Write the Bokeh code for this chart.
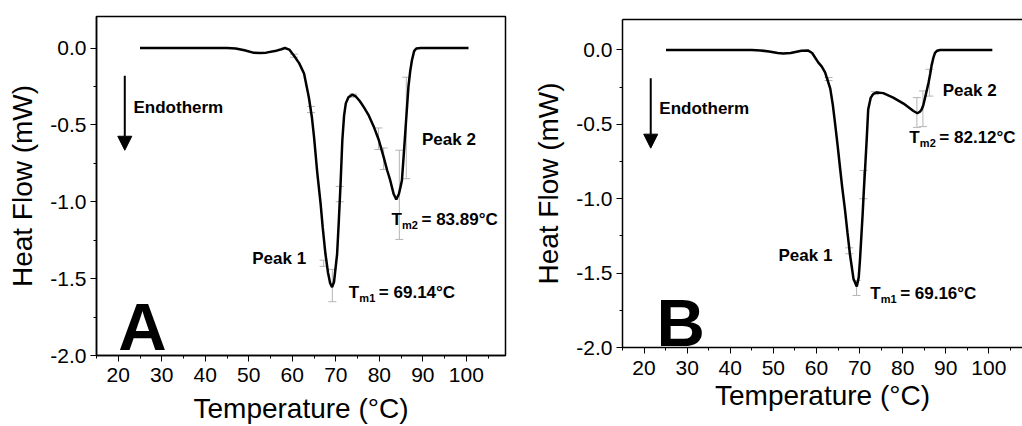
from bokeh.plotting import figure
from bokeh.layouts import row, column
from bokeh.models import (Range1d, SingleIntervalTicker, PrintfTickFormatter, LinearAxis,
                          Arrow, NormalHead, Whisker, TeeHead, ColumnDataSource, FixedTicker)
from bokeh.core.properties import value
from bokeh.embed import file_html
from bokeh.resources import INLINE

FONT = "Liberation Sans"

# ---------------- Panel A data ----------------
tA = [25.0, 30, 35, 40, 45, 47, 49, 51, 52.5, 54, 56, 57.5, 58.3, 59.3, 60.4, 61.6, 62.7,
      63.8, 64.5, 65.0, 65.7, 66.5, 67.0, 67.6, 68.2, 68.7, 69.15, 69.6, 70.3, 70.7, 71.1,
      71.5, 71.9, 72.3, 72.9, 73.8, 74.6, 75.5, 76.4, 77.6, 78.7, 79.9, 81.0, 81.8, 82.5,
      83.3, 83.9, 84.5, 84.9, 85.2, 85.6, 86.0, 86.4, 86.7, 87.1, 87.5, 88.0, 88.5, 89.5,
      95, 100.5]
hfA = [0.0, 0.0, 0.0, 0.0, 0.0, -0.003, -0.015, -0.03, -0.033, -0.03, -0.02, -0.008, 0.0,
       -0.01, -0.05, -0.1, -0.166, -0.32, -0.45, -0.58, -0.80, -1.01, -1.17, -1.335, -1.46,
       -1.53, -1.555, -1.52, -1.34, -1.12, -0.88, -0.60, -0.44, -0.36, -0.32, -0.303, -0.315,
       -0.345, -0.383, -0.44, -0.51, -0.60, -0.71, -0.795, -0.86, -0.95, -0.985, -0.95,
       -0.90, -0.86, -0.70, -0.535, -0.37, -0.25, -0.15, -0.08, -0.02, -0.003, 0.0, 0.0, 0.0]
errA_t = [60.4, 64.3, 67.2, 69.2, 70.9, 74.0, 79.8, 81.0, 84.6, 86.2]
errA_y = [-0.05, -0.40, -1.40, -1.545, -0.95, -0.31, -0.59, -0.72, -0.955, -0.52]
errA_e = [0.01, 0.02, 0.02, 0.105, 0.05, 0.01, 0.07, 0.07, 0.29, 0.33]
annA_x = [23.5, 50.8, 89.8]
annA_y = [-0.39, -1.366, -0.595]
annA_text = ["Endotherm", "Peak 1", "Peak 2"]
tmA_x = [73.0, 82.8]
tmA_y = [-1.593, -1.118]
tmA_sub = ["m1", "m2"]
tmA_val = ["= 69.14°C", "= 83.89°C"]

# ---------------- Panel B data ----------------
tB = [25.1, 30, 35, 40, 45, 47, 49, 51, 52.3, 54, 56.5, 58.0, 59.0, 60.4, 61.2, 62.0, 63.2,
      63.8, 64.3, 64.9, 65.5, 66.0, 66.6, 67.2, 67.8, 68.6, 69.35, 69.8, 70.1, 70.4, 70.7,
      71.0, 71.3, 71.7, 72.0, 72.6, 73.2, 74.0, 75.5, 77.8, 80.2, 82.5, 83.4, 84.0, 84.4,
      84.8, 85.2, 85.6, 86.0, 86.4, 86.7, 87.1, 87.5, 88.0, 88.7, 95, 100.8]
hfB = [0.0, 0.0, 0.0, 0.0, 0.0, -0.003, -0.01, -0.02, -0.023, -0.02, -0.005, -0.003, -0.02,
       -0.083, -0.11, -0.15, -0.26, -0.37, -0.49, -0.64, -0.80, -0.93, -1.07, -1.23, -1.38,
       -1.54, -1.59, -1.53, -1.41, -1.26, -1.11, -0.94, -0.79, -0.576, -0.40, -0.32, -0.295,
       -0.285, -0.29, -0.32, -0.36, -0.41, -0.425, -0.415, -0.40, -0.37, -0.32, -0.27,
       -0.22, -0.16, -0.105, -0.055, -0.02, -0.005, 0.0, 0.0, 0.0]
errB_t = [62.8, 67.6, 69.3, 70.9, 73.6, 83.3, 84.7, 86.2]
errB_y = [-0.195, -1.35, -1.60, -0.905, -0.29, -0.42, -0.395, -0.22]
errB_e = [0.01, 0.02, 0.05, 0.095, 0.01, 0.10, 0.12, 0.09]
annB_x = [23.55, 51.2, 89.3]
annB_y = [-0.39, -1.38, -0.274]
annB_text = ["Endotherm", "Peak 1", "Peak 2"]
tmB_x = [72.45, 81.55]
tmB_y = [-1.64, -0.59]
tmB_sub = ["m1", "m2"]
tmB_val = ["= 69.16°C", "= 82.12°C"]

x_ticks_interval = 10
y_ticks_interval = 0.5


def panel(T, HF, et, ey, ee, ax, ay, atext, tx, ty, tsub, tval, letter, letter_xy, arrow_x,
          arrow_y, width, height, xend, borders, full_frame, ylabel_standoff, xtick_standoff,
          xlabel_standoff):
    p = figure(width=width, height=height, x_range=Range1d(15, xend), y_range=Range1d(-2.0, 0.205),
               output_backend="svg", toolbar_location=None, tools="",
               min_border_left=borders[0], min_border_right=borders[1],
               min_border_top=borders[2], min_border_bottom=borders[3])
    p.grid.visible = False
    p.background_fill_color = "white"
    p.border_fill_color = "white"

    p.xaxis.ticker = SingleIntervalTicker(interval=x_ticks_interval, num_minor_ticks=2)
    p.yaxis.ticker = SingleIntervalTicker(interval=y_ticks_interval, num_minor_ticks=2)
    p.yaxis.formatter = PrintfTickFormatter(format="%.1f")
    p.xaxis.axis_label = "Temperature (°C)"
    p.yaxis.axis_label = "Heat Flow (mW)"
    for ax_ in (p.xaxis[0], p.yaxis[0]):
        ax_.axis_line_width = 1.5
        ax_.axis_line_color = "black"
        ax_.major_tick_out = 6
        ax_.major_tick_in = 0
        ax_.minor_tick_out = 3
        ax_.minor_tick_in = 0
        ax_.major_tick_line_color = "black"
        ax_.minor_tick_line_color = "black"
        ax_.major_label_text_font = FONT
        ax_.major_label_text_font_size = "21px"
        ax_.major_label_text_color = "black"
        ax_.axis_label_text_font = FONT
        ax_.axis_label_text_font_size = "28px"
        ax_.axis_label_text_font_style = "normal"
        ax_.axis_label_text_color = "black"
    p.xaxis[0].major_label_standoff = xtick_standoff
    p.xaxis[0].axis_label_standoff = xlabel_standoff
    p.yaxis[0].major_label_standoff = 4
    p.yaxis[0].axis_label_standoff = ylabel_standoff

    if full_frame:
        p.outline_line_color = "black"
        p.outline_line_width = 1.5
    else:
        p.outline_line_color = None
        top = LinearAxis(ticker=FixedTicker(ticks=[]), major_tick_out=0, major_tick_in=0,
                         minor_tick_out=0, minor_tick_in=0, major_label_standoff=0,
                         axis_label_standoff=0, axis_line_width=1.5, axis_line_color="black")
        p.add_layout(top, "above")

    src = ColumnDataSource(dict(t=et, lo=[y - e for y, e in zip(ey, ee)],
                                hi=[y + e for y, e in zip(ey, ee)]))
    p.add_layout(Whisker(source=src, base="t", lower="lo", upper="hi", dimension="height",
                         line_color="#b4b4b4", line_width=1,
                         lower_head=TeeHead(size=8, line_color="#b4b4b4", line_width=1),
                         upper_head=TeeHead(size=8, line_color="#b4b4b4", line_width=1)))

    p.line(T, HF, line_color="black", line_width=2.5)

    p.add_layout(Arrow(end=NormalHead(size=14, fill_color="black", line_color="black"),
                       x_start=arrow_x, y_start=arrow_y[0], x_end=arrow_x, y_end=arrow_y[1],
                       line_color="black", line_width=2))

    common = dict(text_font=value(FONT), text_font_style="bold", text_color="black",
                  text_align="left", text_baseline="middle")
    p.text(ax, ay, text=atext, text_font_size=value("17px"), **common)
    p.text(tx, ty, text=["T"] * len(tx), text_font_size=value("17px"), **common)
    p.text(tx, ty, text=tsub, text_font_size=value("11px"), x_offset=10.5, y_offset=5, **common)
    p.text(tx, ty, text=tval, text_font_size=value("17px"), x_offset=30, **common)
    p.text([letter_xy[0]], [letter_xy[1]], text=[letter], text_font=value(FONT),
           text_font_style="bold", text_font_size=value("67px"), text_color="black",
           text_align="left", text_baseline="alphabetic")
    return p


pA = panel(tA, hfA, errA_t, errA_y, errA_e, annA_x, annA_y, annA_text, tmA_x, tmA_y, tmA_sub,
           tmA_val, "A", (20.0, -1.81), 21.5, (-0.18, -0.665), 520, 426, 109.0,
           (96, 15, 16, 70), True, 9, 6, 8)
pB = panel(tB, hfB, errB_t, errB_y, errB_e, annB_x, annB_y, annB_text, tmB_x, tmB_y, tmB_sub,
           tmB_val, "B", (22.9, -1.83), 21.55, (-0.19, -0.66), 502, 426, 107.8,
           (102, 0, 19, 79), False, 9, 7, 2)

layout = row(column(pA), column(pB), spacing=0)
open("out.html", "w").write(file_html(layout, INLINE))
